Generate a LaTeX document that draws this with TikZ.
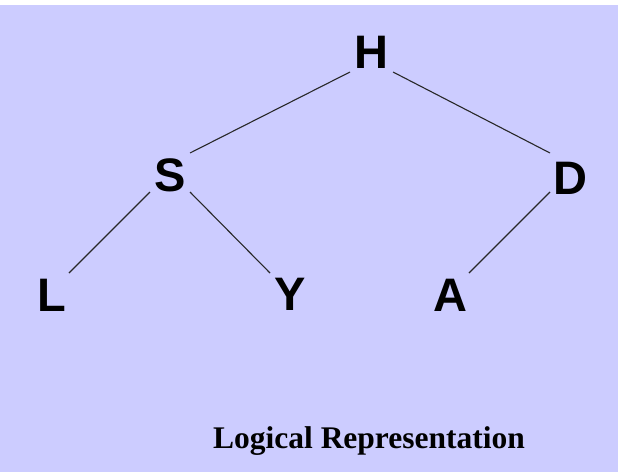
\documentclass[tikz,border=0pt]{standalone}
\usepackage{fontspec}
\setmainfont{Liberation Serif}
\newfontfamily\lettersans{Liberation Sans}
\definecolor{lav}{RGB}{204,204,255}
\definecolor{edgegray}{RGB}{40,40,40}
\begin{document}
\begin{tikzpicture}[x=1pt,y=-1pt,
  letter/.style={inner sep=0pt, font=\lettersans\bfseries\fontsize{47}{50}\selectfont},
  edge/.style={draw=edgegray, line width=1.1pt},
  caption/.style={inner sep=0pt, anchor=base, font=\bfseries\fontsize{31.5}{34}\selectfont}]
\useasboundingbox (0,0) rectangle (618,472);
\fill[white] (0,0) rectangle (618,472);
\fill[lav] (0,5) rectangle (618,472);
\node[letter] (H) at (371,52) {H};
\node[letter] (S) at (170,175) {S};
\node[letter] (D) at (570,178) {D};
\node[letter] (L) at (52,295) {L};
\node[letter] (Y) at (290,294) {Y};
\node[letter] (A) at (450,295) {A};
\draw[edge] ([shift={(-21,20)}]H.center) -- ([shift={(20,-22)}]S.center);
\draw[edge] ([shift={(22,20)}]H.center) -- ([shift={(-20,-25)}]D.center);
\draw[edge] ([shift={(-20,17)}]S.center) -- ([shift={(17,-22)}]L.center);
\draw[edge] ([shift={(20,17)}]S.center) -- ([shift={(-20,-21)}]Y.center);
\draw[edge] ([shift={(-20,14)}]D.center) -- ([shift={(19,-22)}]A.center);
\node[caption] (cap) at (369,448) {Logical Representation};
\end{tikzpicture}
\end{document}
